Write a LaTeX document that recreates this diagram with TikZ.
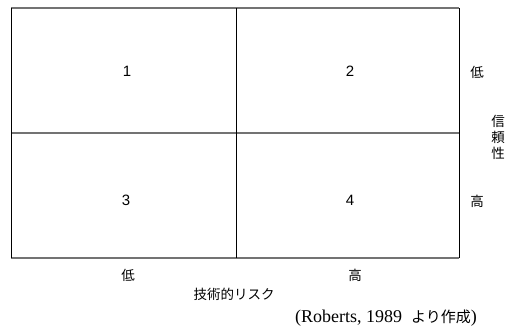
\documentclass[tikz,border=0pt]{standalone}
\usepackage{fontspec}
\setmainfont{Liberation Serif}
\setsansfont{Liberation Sans}
\newfontfamily\jp{Noto Sans CJK JP}
\begin{document}
\begin{tikzpicture}[x=1pt,y=-1pt,
  num/.style={font=\sffamily\fontsize{15}{15}\selectfont},
  lab/.style={font=\jp\fontsize{13.5}{16}\selectfont},
  vline/.style={draw=black,line width=0.9pt},
  hline/.style={draw=black!55,line width=1.3pt}]
\useasboundingbox (0,0) rectangle (519,326);
\coordinate (tl) at (11,8);
\coordinate (tm) at (236,8);
\coordinate (tr) at (459,8);
\coordinate (ml) at (11,133);
\coordinate (mr) at (459,133);
\coordinate (bl) at (11,258);
\coordinate (bm) at (236,258);
\coordinate (br) at (459,258);
\draw[hline] (tl) -- (tr);
\draw[hline] (ml) -- (mr);
\draw[hline] (bl) -- (br);
\draw[vline] (tl) -- (bl);
\draw[vline] (tm) -- (bm);
\draw[vline] (tr) -- (br);
\node[num] (n1) at (127,71) {1};
\node[num] (n2) at (350,71) {2};
\node[num] (n3) at (126,200) {3};
\node[num] (n4) at (350,200) {4};
\node[lab] (rlow) at (477,72) {低};
\node[lab] (rhigh) at (477,201) {高};
\node[lab,align=center,inner sep=0pt] (rel) at (498,137) {信\\頼\\性};
\node[lab] (blow) at (128,275) {低};
\node[lab] (bhigh) at (355,275) {高};
\node[lab] (risk) at (234,294) {技術的リスク};
\node[font=\fontsize{18}{18}\selectfont,anchor=base west,inner sep=0pt] (src) at (295,322) {(Roberts, 1989\hspace{9pt}{\jp\fontsize{15}{15}\selectfont より作成})};
\end{tikzpicture}
\end{document}
